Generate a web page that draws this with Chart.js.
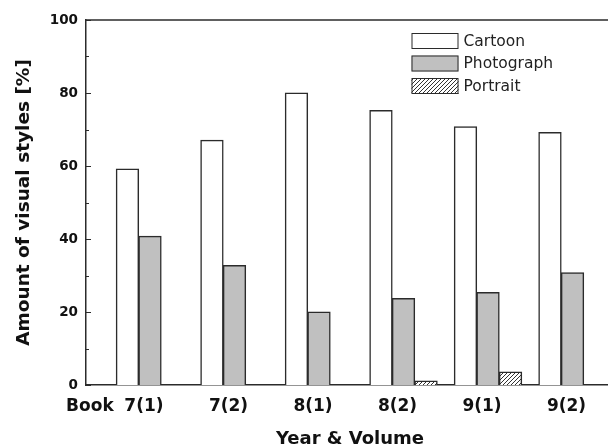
<!DOCTYPE html>
<html>
<head>
<meta charset="utf-8">
<script src="https://cdn.jsdelivr.net/npm/chart.js@4.4.1/dist/chart.umd.min.js"></script>
<style>
html, body { margin: 0; padding: 0; overflow: hidden; background: #fff; width: 608px; height: 448px; }
#wrap { width: 620px; height: 448px; }
</style>
</head>
<body>
<div id="wrap"><canvas id="c" width="620" height="448"></canvas></div>
<script>
// ---- data ----
const categories = ['7(1)', '7(2)', '8(1)', '8(2)', '9(1)', '9(2)'];
const axisPrefix = 'Book';
const cartoon    = [59.2, 67.1, 80.0, 75.2, 70.8, 69.2];
const photograph = [40.8, 32.8, 20.0, 23.7, 25.4, 30.8];
const portrait   = [null, null, null, 1.1, 3.6, null];
const seriesNames = ['Cartoon', 'Photograph', 'Portrait'];
const yTicks = [0, 20, 40, 60, 80, 100];
const yTitle = 'Amount of visual styles [%]';
const xTitle = 'Year & Volume';

// ---- styles ----
const DARK = '#2b2b2b';
const FONT = 'DejaVu Sans';

function makeHatch() {
  const c = document.createElement('canvas');
  c.width = 4; c.height = 4;
  const g = c.getContext('2d');
  g.fillStyle = '#fff';
  g.fillRect(0, 0, 4, 4);
  g.strokeStyle = '#333';
  g.lineWidth = 1;
  g.beginPath();
  g.moveTo(0, 4); g.lineTo(4, 0);
  g.moveTo(-1, 1); g.lineTo(1, -1);
  g.moveTo(3, 5); g.lineTo(5, 3);
  g.stroke();
  return g.createPattern(c, 'repeat');
}
const hatch = makeHatch();

const toPoints = arr => arr.map((v, i) => ({ x: i, y: v }));

const frameAndTicks = {
  id: 'frameAndTicks',
  afterDraw(chart) {
    const { ctx, chartArea } = chart;
    const ys = chart.scales.y;
    const xs = chart.scales.x;
    ctx.save();
    ctx.strokeStyle = DARK;
    ctx.lineWidth = 1.5;
    // top frame
    ctx.beginPath();
    ctx.moveTo(chartArea.left, chartArea.top);
    ctx.lineTo(chart.width, chartArea.top);
    ctx.stroke();
    // inward ticks
    ctx.lineWidth = 1;
    const vals = ys.ticks.map(t => t.value);
    vals.forEach((v, i) => {
      const py = Math.round(ys.getPixelForValue(v)) + 0.5;
      ctx.beginPath();
      ctx.moveTo(chartArea.left, py);
      ctx.lineTo(chartArea.left + 5, py);
      ctx.stroke();
      if (i < vals.length - 1) {
        const pm = Math.round(ys.getPixelForValue((v + vals[i + 1]) / 2)) + 0.5;
        ctx.beginPath();
        ctx.moveTo(chartArea.left, pm);
        ctx.lineTo(chartArea.left + 3, pm);
        ctx.stroke();
      }
    });
    // "Book" prefix before first category label, on the same baseline
    const tf = xs.options.ticks.font;
    ctx.font = `bold ${tf.size}px "${FONT}"`;
    ctx.fillStyle = '#111';
    let ty = xs.top + xs.options.ticks.padding;
    let tb = 'top';
    const items = xs._labelItems;
    if (items && items.length) {
      ty = items[0].options.translation[1] + (items[0].textOffset || 0);
      tb = items[0].options.textBaseline || 'top';
    }
    ctx.textBaseline = tb;
    ctx.textAlign = 'right';
    const firstX = xs.getPixelForTick(0) + xs.options.ticks.labelOffset;
    const w = ctx.measureText(categories[0]).width;
    const sp = ctx.measureText(' ').width;
    ctx.fillText(axisPrefix, firstX - w / 2 - sp * 1.8, ty);
    // legend
    const lg = chart.options.plugins.customLegend;
    ctx.font = `${lg.fontSize}px "${FONT}"`;
    ctx.textAlign = 'left';
    ctx.textBaseline = 'middle';
    chart.data.datasets.forEach((ds, i) => {
      const bx = chartArea.left + lg.dx;
      const by = chartArea.top + lg.dy + i * lg.step;
      ctx.fillStyle = ds.backgroundColor;
      ctx.fillRect(bx, by, lg.boxW, lg.boxH);
      ctx.strokeStyle = DARK;
      ctx.lineWidth = 1;
      ctx.strokeRect(bx + 0.5, by + 0.5, lg.boxW - 1, lg.boxH - 1);
      ctx.fillStyle = '#222';
      ctx.fillText(ds.label, bx + lg.boxW + 5, by + lg.boxH / 2 + 0.5);
    });
    ctx.restore();
  }
};

new Chart(document.getElementById('c'), {
  type: 'bar',
  data: {
    datasets: [
      { label: seriesNames[0], data: toPoints(cartoon), backgroundColor: '#ffffff' },
      { label: seriesNames[1], data: toPoints(photograph), backgroundColor: '#c0c0c0' },
      { label: seriesNames[2], data: toPoints(portrait), backgroundColor: hatch }
    ]
  },
  options: {
    responsive: false,
    animation: false,
    devicePixelRatio: 1,
    layout: { padding: { top: 20, right: 6, left: 0, bottom: 0 } },
    datasets: {
      bar: {
        borderColor: DARK,
        borderWidth: 1.5,
        categoryPercentage: 0.8,
        barPercentage: 1.0,
        inflateAmount: 0.4
      }
    },
    plugins: {
      legend: { display: false },
      tooltip: { enabled: false },
      customLegend: { dx: 325.5, dy: 13, step: 22.5, boxW: 47, boxH: 16, fontSize: 15.5 }
    },
    scales: {
      x: {
        type: 'linear',
        offset: false,
        min: -0.757,
        max: 5.491,
        bounds: 'data',
        afterBuildTicks: s => { s.ticks = categories.map((_, i) => ({ value: i })); },
        afterFit: s => { s.height = 63; },
        grid: { display: false, drawTicks: false, offset: false },
        border: { display: true, color: DARK, width: 1.5 },
        ticks: {
          autoSkip: false,
          maxRotation: 0,
          padding: 11,
          labelOffset: -6,
          color: '#111',
          font: { family: FONT, size: 17, weight: 'bold' },
          callback: v => categories[v]
        },
        title: {
          display: true,
          text: xTitle,
          color: '#111',
          padding: { top: 0, bottom: 0 },
          font: { family: FONT, size: 18, weight: 'bold', lineHeight: 1 }
        }
      },
      y: {
        min: 0,
        max: 100,
        afterBuildTicks: s => { s.ticks = yTicks.map(v => ({ value: v })); },
        afterFit: s => { s.width = 86; },
        grid: { display: false, drawTicks: false },
        border: { display: true, color: DARK, width: 1.5 },
        ticks: {
          padding: 8,
          color: '#111',
          font: { family: FONT, size: 13.5, weight: 'bold' }
        },
        title: {
          display: true,
          text: yTitle,
          color: '#111',
          padding: { top: 15, bottom: 0 },
          font: { family: FONT, size: 18.5, weight: 'bold', lineHeight: 1 }
        }
      }
    }
  },
  plugins: [frameAndTicks]
});
</script>
</body>
</html>
